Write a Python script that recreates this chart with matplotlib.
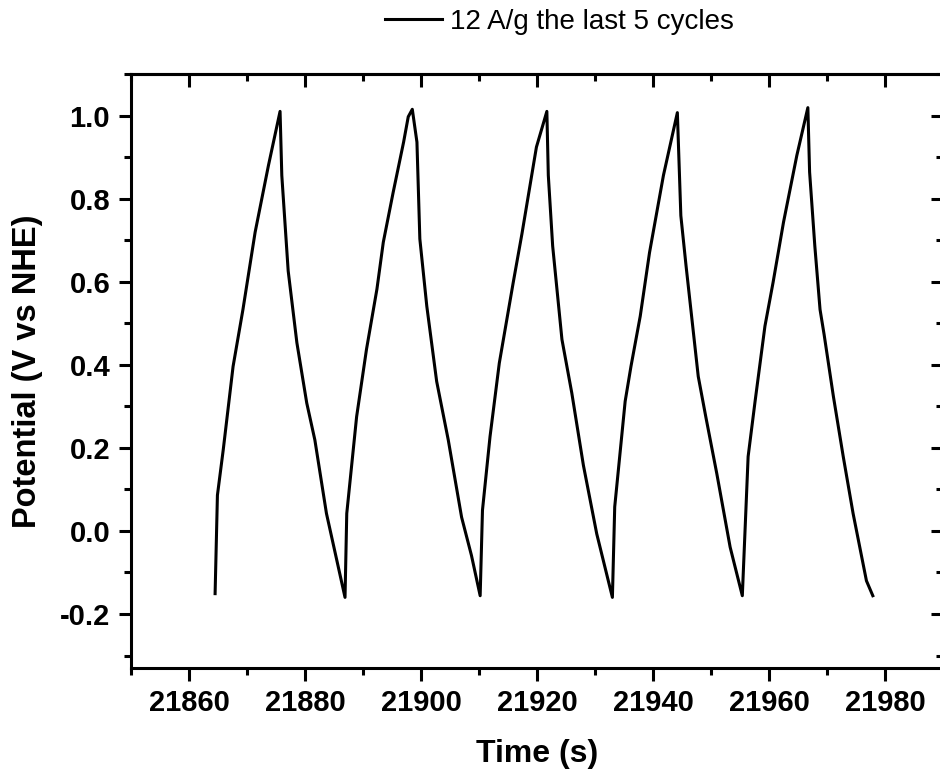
import matplotlib.pyplot as plt
from matplotlib.ticker import MultipleLocator
import numpy as np

# time (s) and potential (V vs NHE)
time_s = [21864.5, 21864.9, 21865.9, 21867.6, 21869.3, 21871.4, 21873.7, 21875.7,
          21876.0, 21877.1, 21878.6, 21880.3, 21881.7, 21883.7, 21886.9,
          21887.2, 21888.9, 21890.6, 21892.4, 21893.5, 21895.2, 21897.0, 21897.8, 21898.5,
          21899.3, 21899.8, 21901.0, 21902.7, 21904.7, 21907.0, 21908.7, 21910.2,
          21910.6, 21911.9, 21913.5, 21915.9, 21917.4, 21919.9, 21921.7,
          21921.95, 21922.7, 21924.3, 21926.0, 21928.0, 21930.3, 21933.0,
          21933.4, 21935.2, 21936.2, 21937.8, 21939.4, 21941.8, 21944.2,
          21944.8, 21945.7, 21947.8, 21949.1, 21951.0, 21953.3, 21955.4,
          21956.4, 21957.6, 21959.3, 21960.7, 21962.5, 21964.8, 21966.7,
          21967.0, 21967.9, 21968.8, 21969.5, 21971.1, 21972.8, 21974.5, 21976.8, 21977.9]
potential = [-0.151, 0.086, 0.195, 0.396, 0.533, 0.719, 0.880, 1.010,
             0.856, 0.626, 0.453, 0.308, 0.219, 0.042, -0.160,
             0.042, 0.275, 0.437, 0.582, 0.695, 0.815, 0.936, 0.997, 1.015,
             0.936, 0.703, 0.541, 0.360, 0.219, 0.033, -0.059, -0.156,
             0.050, 0.227, 0.404, 0.598, 0.715, 0.924, 1.010,
             0.856, 0.686, 0.461, 0.332, 0.158, -0.007, -0.160,
             0.058, 0.312, 0.396, 0.517, 0.670, 0.856, 1.007,
             0.759, 0.638, 0.372, 0.275, 0.138, -0.039, -0.156,
             0.179, 0.312, 0.493, 0.598, 0.743, 0.904, 1.019,
             0.864, 0.686, 0.533, 0.473, 0.324, 0.179, 0.042, -0.120, -0.156]

plt.rcParams['font.family'] = ['Liberation Sans', 'DejaVu Sans']

fig = plt.figure(figsize=(9.4, 7.75), dpi=100)
ax = fig.add_axes([131/940, 1 - 668/775, (943 - 131)/940, (668 - 74)/775])

ax.plot(time_s, potential, color='black', lw=2.2, label='12 A/g the last 5 cycles')

ax.set_xlim(21850, 21990)
ax.set_ylim(-0.33, 1.1)
ax.xaxis.set_major_locator(MultipleLocator(20))
ax.xaxis.set_minor_locator(MultipleLocator(10))
ax.yaxis.set_major_locator(MultipleLocator(0.2))
ax.yaxis.set_minor_locator(MultipleLocator(0.1))
ax.yaxis.set_major_formatter(plt.FuncFormatter(lambda v, p: f"{v:.1f}"))

for s in ax.spines.values():
    s.set_linewidth(2.2)
ax.tick_params(which='major', direction='out', length=9, width=2.2, labelsize=21, pad=6)
ax.tick_params(which='minor', direction='out', length=5, width=2.2)
for lab in ax.get_xticklabels() + ax.get_yticklabels():
    lab.set_fontweight('bold')

# mirrored ticks on top and right, pointing inward
top = ax.secondary_xaxis('top')
top.xaxis.set_major_locator(MultipleLocator(20))
top.xaxis.set_minor_locator(MultipleLocator(10))
top.tick_params(which='major', direction='in', length=9, width=2.2, labeltop=False)
top.tick_params(which='minor', direction='in', length=5, width=2.2)
right = ax.secondary_yaxis('right')
right.yaxis.set_major_locator(MultipleLocator(0.2))
right.yaxis.set_minor_locator(MultipleLocator(0.1))
right.tick_params(which='major', direction='in', length=9, width=2.2, labelright=False)
right.tick_params(which='minor', direction='in', length=5, width=2.2)
for sa in (top, right):
    for s in sa.spines.values():
        s.set_linewidth(2.2)

ax.set_xlabel('Time (s)', fontsize=23, fontweight='bold', labelpad=16)
ax.set_ylabel('Potential (V vs NHE)', fontsize=23.5, fontweight='bold', labelpad=12)

fig.legend(loc='center', bbox_to_anchor=(0.595, 1 - 22/775), frameon=False,
           fontsize=20, handlelength=2.05, handletextpad=0.3)

fig.savefig('out.png', dpi=100)
